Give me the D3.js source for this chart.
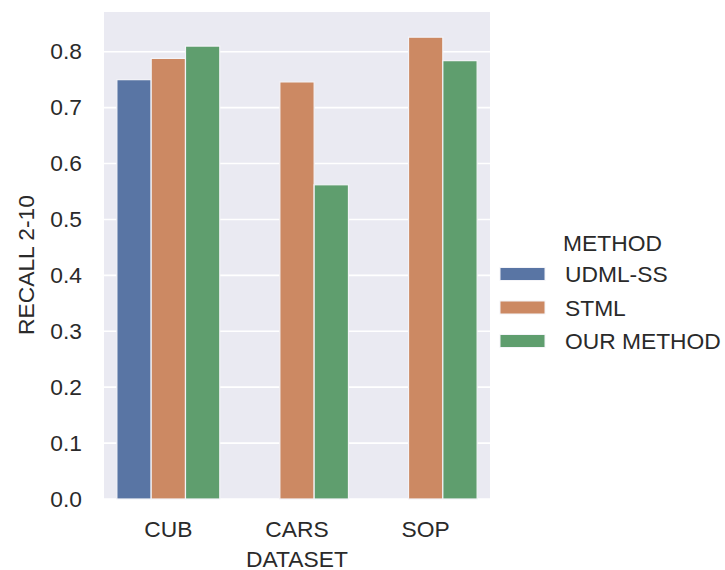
<!DOCTYPE html>
<html>
<head>
<meta charset="utf-8">
<script src="https://cdn.jsdelivr.net/npm/d3@7"></script>
<style>
  html, body { margin: 0; padding: 0; background: #ffffff; }
  svg { display: block; }
  text { font-family: "Liberation Sans", Arial, Helvetica, sans-serif; fill: #2a2a2a; }
</style>
</head>
<body>
<svg id="chart" width="725" height="570"></svg>
<script>
const categories = ["CUB", "CARS", "SOP"];
const methods = ["UDML-SS", "STML", "OUR METHOD"];
const udmlValues = [0.750, null, null];
const stmlValues = [0.788, 0.746, 0.826];
const ourValues = [0.810, 0.562, 0.784];
const yTicks = [0.0, 0.1, 0.2, 0.3, 0.4, 0.5, 0.6, 0.7, 0.8];
const colors = ["#5975a4", "#cc8963", "#5f9e6e"];

const seriesValues = [udmlValues, stmlValues, ourValues];
const rows = [];
categories.forEach((c, i) => {
  methods.forEach((m, j) => {
    const v = seriesValues[j][i];
    if (v != null) rows.push({ category: c, method: m, value: v, idx: j });
  });
});

const svg = d3.select("#chart");
const margin = { left: 104, right: 490, top: 12, bottom: 499 };
const fontSize = 22.8;
const textColor = "#2a2a2a";
const fontFam = '"Liberation Sans", Arial, sans-serif';

const x = d3.scaleBand().domain(categories).range([margin.left, margin.right]).paddingInner(0).paddingOuter(0);
const x1 = d3.scaleBand().domain(methods);
const groupWidth = x.bandwidth() * 0.8;
x1.range([x.bandwidth() * 0.1, x.bandwidth() * 0.1 + groupWidth]);

const y = d3.scaleLinear().domain([0, 0.871]).range([margin.bottom, margin.top]);

// background
svg.append("rect")
  .attr("x", margin.left).attr("y", margin.top)
  .attr("width", margin.right - margin.left)
  .attr("height", margin.bottom - margin.top)
  .attr("fill", "#eaeaf2");

// grid
svg.append("g").selectAll("line").data(yTicks).join("line")
  .attr("x1", margin.left).attr("x2", margin.right)
  .attr("y1", d => y(d)).attr("y2", d => y(d))
  .attr("stroke", "#ffffff").attr("stroke-width", 1.6);

// bars
svg.append("g").selectAll("rect").data(rows).join("rect")
  .attr("x", d => x(d.category) + x1(d.method))
  .attr("width", x1.bandwidth())
  .attr("y", d => y(d.value))
  .attr("height", d => y(0) - y(d.value))
  .attr("fill", d => colors[d.idx])
  .attr("stroke", "#f4f4f8")
  .attr("stroke-width", 1.2);

// y axis
const yAxis = svg.append("g")
  .attr("transform", `translate(${margin.left},0)`)
  .call(d3.axisLeft(y).tickValues(yTicks).tickFormat(d3.format(".1f")).tickSize(0).tickPadding(22));
yAxis.select(".domain").remove();
yAxis.selectAll("text").style("font-size", fontSize + "px").attr("fill", textColor)
  .style("font-family", fontFam);

// x axis
const xAxis = svg.append("g")
  .attr("transform", `translate(0,${margin.bottom})`)
  .call(d3.axisBottom(x).tickSize(0).tickPadding(22));
xAxis.select(".domain").remove();
xAxis.selectAll("text").style("font-size", fontSize + "px").attr("fill", textColor)
  .style("font-family", fontFam);

// axis labels
svg.append("text")
  .attr("x", (margin.left + margin.right) / 2)
  .attr("y", 566.5)
  .attr("text-anchor", "middle")
  .style("font-size", fontSize + "px")
  .text("DATASET");

svg.append("text")
  .attr("transform", "translate(33.5,265) rotate(-90)")
  .attr("text-anchor", "middle")
  .style("font-size", fontSize + "px")
  .text("RECALL 2-10");

// legend
const legend = svg.append("g");
legend.append("text")
  .attr("x", 612.5).attr("y", 251)
  .attr("text-anchor", "middle")
  .style("font-size", fontSize + "px")
  .text("METHOD");
const rowY = [274, 307.5, 341];
methods.forEach((m, j) => {
  legend.append("rect")
    .attr("x", 500).attr("y", rowY[j] - 6.5)
    .attr("width", 45).attr("height", 13)
    .attr("fill", colors[j])
    .attr("stroke", "#f4f4f8").attr("stroke-width", 1);
  legend.append("text")
    .attr("x", 565).attr("y", rowY[j] + 8)
    .style("font-size", fontSize + "px")
    .text(m);
});
</script>
</body>
</html>
